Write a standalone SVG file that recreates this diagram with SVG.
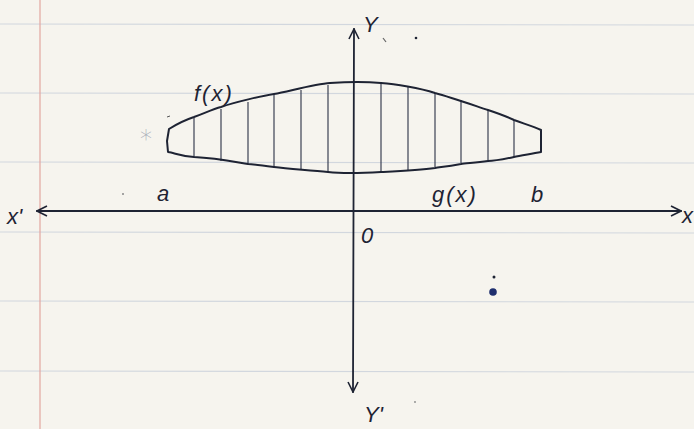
<svg xmlns="http://www.w3.org/2000/svg" width="694" height="429" viewBox="0 0 694 429">
<defs>
<style>
.rule{stroke:#d2d7de;stroke-width:1.2}
.ink{fill:none;stroke:#1e2333;stroke-linecap:round;stroke-linejoin:round}
.hatch{stroke:#2a3045;stroke-width:1.1}
.lbl{font-family:"Liberation Sans",Arial,sans-serif;font-style:italic;fill:#1e2333;font-size:22px}
</style>
<marker id="ah" viewBox="0 0 12 12" refX="11" refY="6" markerWidth="12" markerHeight="12" markerUnits="userSpaceOnUse" orient="auto-start-reverse">
<path d="M1,1 L11,6 L1,11" fill="none" stroke="#1e2333" stroke-width="1.6"/>
</marker>
</defs>
<rect width="694" height="429" fill="#f6f4ee"/>
<g id="paper">
<line class="rule" x1="0" y1="24" x2="694" y2="25"/>
<line class="rule" x1="0" y1="93" x2="694" y2="94"/>
<line class="rule" x1="0" y1="162" x2="694" y2="163"/>
<line class="rule" x1="0" y1="232" x2="694" y2="233"/>
<line class="rule" x1="0" y1="301" x2="694" y2="302"/>
<line class="rule" x1="0" y1="371" x2="694" y2="372"/>
<line x1="40" y1="0" x2="40" y2="429" stroke="#e3a6a0" stroke-width="1.2"/>
</g>
<g id="region">
<g class="hatch">
<line x1="194" y1="118" x2="194" y2="157"/>
<line x1="221" y1="109" x2="221" y2="161"/>
<line x1="248" y1="102" x2="248" y2="164"/>
<line x1="274" y1="95" x2="274" y2="168"/>
<line x1="301" y1="90" x2="301" y2="170"/>
<line x1="328" y1="85" x2="328" y2="172"/>
<line x1="381" y1="84" x2="381" y2="172"/>
<line x1="408" y1="87" x2="408" y2="170"/>
<line x1="435" y1="93" x2="435" y2="167"/>
<line x1="461" y1="100" x2="461" y2="163"/>
<line x1="488" y1="110" x2="488" y2="160"/>
<line x1="514" y1="120" x2="514" y2="157"/>
</g>
<path class="ink" stroke-width="2" d="M169,129 C180,122 188,119 194,117 C205,113 213,109 221,107 C235,102 262,96 274,94 C290,91 315,84 330,83 C345,82 370,82 381,83 C395,84 420,88 435,93 C450,97 470,104 488,110 C500,114 510,118 514,120 C525,124 535,127 541,130 L541,152 C530,154 520,156 514,157 C500,160 495,161 488,161 C475,163 465,163 461,164 C445,167 440,167 435,168 C420,170 400,171 381,172 C365,173 345,174 328,172 C310,170 290,169 274,167 C260,165 250,164 248,164 C230,161 215,158 194,157 C180,156 175,153 168,152 L167,141 L169,129"/>
</g>
<g id="axes">
<line class="ink" stroke-width="1.8" x1="37" y1="211" x2="681" y2="211" marker-start="url(#ah)" marker-end="url(#ah)"/>
<line class="ink" stroke-width="1.8" x1="354" y1="29" x2="353" y2="392" marker-start="url(#ah)" marker-end="url(#ah)"/>
</g>
<g id="labels">
<text class="lbl" x="194" y="101" font-size="25" letter-spacing="2">f(x)</text>
<text class="lbl" x="432" y="202" font-size="25" letter-spacing="2">g(x)</text>
<text class="lbl" x="157" y="201" font-size="20">a</text>
<text class="lbl" x="531" y="202" font-size="20">b</text>
<text class="lbl" x="7" y="224" font-size="24">x'</text>
<text class="lbl" x="682" y="223">x</text>
<text class="lbl" x="363" y="32" font-size="25">Y</text>
<text class="lbl" x="364" y="422" font-size="23">Y'</text>
<text class="lbl" x="361" y="243" font-size="19">0</text>
<text x="146" y="147" font-family="DejaVu Sans,sans-serif" font-size="24" font-weight="100" fill="#a8adb8" text-anchor="middle">*</text>
</g>
<g id="marks" fill="#1e2333">
<line x1="167" y1="117" x2="170" y2="116" stroke="#555" stroke-width="1"/>
<line x1="383" y1="38" x2="386" y2="42" stroke="#666" stroke-width="1.2"/>
<circle cx="416" cy="38" r="1.3"/>
<circle cx="494" cy="277" r="1.5"/>
<circle cx="493" cy="292" r="3.8" fill="#1f2f6e"/>
<circle cx="123" cy="194" r="1" fill="#888"/>
<circle cx="415" cy="402" r="0.9" fill="#888"/>
</g>
</svg>
